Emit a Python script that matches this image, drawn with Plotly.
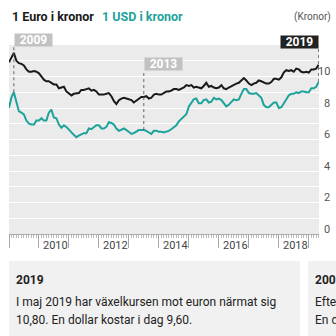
import plotly.graph_objects as go
import pandas as pd

months = [d.strftime("%Y-%m-%d") for d in pd.date_range("2009-01-01", "2019-05-01", freq="MS")]

euro = [
    10.9, 11.2, 11.5, 11.0, 10.85, 10.8, 10.7, 10.45, 10.3, 10.3, 10.35, 10.3,
    10.2, 10.0, 9.8, 9.7, 9.7, 9.6, 9.5, 9.5, 9.25, 9.3, 9.35, 9.05,
    8.95, 8.8, 8.9, 8.95, 8.95, 9.15, 9.15, 9.2, 9.25, 9.1, 9.15, 9.05,
    8.85, 8.85, 8.85, 8.9, 8.95, 8.75, 8.45, 8.25, 8.5, 8.6, 8.65, 8.6,
    8.55, 8.5, 8.35, 8.45, 8.6, 8.7, 8.7, 8.75, 8.6, 8.65, 8.85, 8.9,
    8.85, 8.85, 8.95, 9.05, 9.05, 9.1, 9.2, 9.2, 9.15, 9.2, 9.3, 9.45,
    9.4, 9.45, 9.3, 9.35, 9.3, 9.25, 9.4, 9.6, 9.35, 9.4, 9.3, 9.25,
    9.3, 9.45, 9.25, 9.2, 9.3, 9.4, 9.5, 9.55, 9.6, 9.75, 9.9, 9.75,
    9.55, 9.45, 9.55, 9.6, 9.75, 9.7, 9.6, 9.55, 9.55, 9.65, 9.85, 9.85,
    9.8, 9.95, 10.25, 10.4, 10.35, 10.4, 10.3, 10.5, 10.45, 10.3, 10.25, 10.3,
    10.25, 10.45, 10.45, 10.5, 10.75,
]

usd = [
    8.0, 8.7, 9.0, 8.3, 7.8, 7.7, 7.6, 7.2, 7.0, 6.95, 6.95, 7.2,
    7.2, 7.35, 7.2, 7.2, 7.7, 7.9, 7.4, 7.35, 6.95, 6.75, 6.9, 6.8,
    6.6, 6.45, 6.3, 6.15, 6.25, 6.35, 6.4, 6.4, 6.7, 6.65, 6.75, 6.9,
    6.9, 6.7, 6.7, 6.8, 7.1, 7.05, 6.95, 6.7, 6.55, 6.65, 6.7, 6.6,
    6.5, 6.35, 6.4, 6.5, 6.6, 6.6, 6.6, 6.55, 6.45, 6.35, 6.55, 6.55,
    6.5, 6.5, 6.45, 6.5, 6.55, 6.65, 6.8, 6.9, 7.15, 7.3, 7.45, 7.6,
    8.1, 8.35, 8.55, 8.6, 8.3, 8.3, 8.5, 8.55, 8.35, 8.4, 8.65, 8.55,
    8.6, 8.5, 8.3, 8.1, 8.2, 8.35, 8.55, 8.5, 8.55, 8.9, 9.2, 9.2,
    8.95, 8.9, 8.9, 8.95, 8.8, 8.65, 8.2, 8.05, 8.05, 8.2, 8.35, 8.35,
    8.0, 8.05, 8.3, 8.5, 8.8, 8.9, 8.9, 9.0, 8.95, 9.05, 9.05, 9.0,
    9.0, 9.25, 9.25, 9.35, 9.65,
]

year_labels = ["2010", "2012", "2014", "2016", "2018"]
y_labels = [0, 2, 4, 6, 8, 10]

# event markers: (label, date, usd value at date, box colour, anchor, box centre, box bottom)
events = [
    ("2009", "2009-03-01", 9.0, "#c2c2c2", "left", 1.026, 0.995),
    ("2013", "2013-07-01", 6.6, "#c2c2c2", "left", 0.899, 0.868),
    ("2019", "2019-05-01", 9.65, "#222222", "right", 1.016, 0.984),
]

EURO_COLOR = "#1a1a1a"
USD_COLOR = "#1ca39a"
FONT = "Roboto"

fig = go.Figure()
fig.add_trace(go.Scatter(x=months, y=euro, mode="lines",
                         line=dict(color=EURO_COLOR, width=2), hoverinfo="skip"))
fig.add_trace(go.Scatter(x=months, y=usd, mode="lines",
                         line=dict(color=USD_COLOR, width=2), hoverinfo="skip"))

shapes = []
annotations = []

for lab, d, v, col, anchor, ybox, ytop in events:
    shapes.append(dict(type="line", xref="x", yref="y", x0=d, x1=d, y0=v, y1=ytop * 12,
                       line=dict(color="#666", width=1, dash="dot"), layer="above"))
    annotations.append(dict(text="<b>%s</b>" % lab, xref="x", yref="paper", x=d, y=ybox,
                            xanchor=anchor, yanchor="middle", showarrow=False,
                            bgcolor=col, borderpad=0, width=37, height=12, align="center",
                            font=dict(family=FONT, size=12, color="white")))

for yl in year_labels:
    annotations.append(dict(text=yl, xref="x", yref="paper", x="%s-01-01" % yl, y=0,
                            xanchor="left", yanchor="middle", xshift=2, yshift=-11,
                            showarrow=False, font=dict(family=FONT, size=11, color="#444")))

for v in y_labels:
    annotations.append(dict(text=str(v), xref="paper", yref="y", x=1, y=v,
                            xanchor="right", yanchor="middle", xshift=13, yshift=5,
                            showarrow=False, font=dict(family=FONT, size=11, color="#555")))

# header legend
annotations += [
    dict(text="<b>1 Euro i kronor</b>", xref="paper", yref="paper", x=0.003, y=1.153,
         xanchor="left", yanchor="middle", showarrow=False,
         font=dict(family=FONT, size=12.5, color=EURO_COLOR)),
    dict(text="<b>1 USD i kronor</b>", xref="paper", yref="paper", x=0.294, y=1.153,
         xanchor="left", yanchor="middle", showarrow=False,
         font=dict(family=FONT, size=12.5, color=USD_COLOR)),
    dict(text="(Kronor)", xref="paper", yref="paper", x=1.045, y=1.148,
         xanchor="right", yanchor="middle", showarrow=False,
         font=dict(family=FONT, size=10, color="#555")),
]

# bottom info panels (the second one continues past the right edge, as in a carousel)
shapes += [
    dict(type="rect", xref="paper", yref="paper", x0=0, x1=0.939, y0=-0.56, y1=-0.143,
         fillcolor="#f1f1f1", line=dict(width=0), layer="below"),
    dict(type="rect", xref="paper", yref="paper", x0=0.965, x1=1.3, y0=-0.56, y1=-0.143,
         fillcolor="#f1f1f1", line=dict(width=0), layer="below"),
]
panel_texts = [
    (0.016, -0.243, "<b>2019</b>", 12),
    (0.016, -0.36, "I maj 2019 har växelkursen mot euron närmat sig", 12),
    (0.016, -0.455, "10,80. En dollar kostar i dag 9,60.", 12),
    (0.981, -0.243, "<b>2009</b>", 12),
    (0.981, -0.36, "Efter finanskrisen kostade en euro", 12),
    (0.981, -0.455, "En dollar kostade då", 12),
]
for x, y, t, s in panel_texts:
    annotations.append(dict(text=t, xref="paper", yref="paper", x=x, y=y,
                            xanchor="left", yanchor="middle", showarrow=False,
                            font=dict(family=FONT, size=s, color="#222")))

fig.update_layout(
    width=336, height=336,
    margin=dict(l=9, r=17, t=45, b=102),
    paper_bgcolor="white", plot_bgcolor="#ebebeb",
    showlegend=False,
    shapes=shapes, annotations=annotations,
    xaxis=dict(type="date", range=["2009-01-01", "2019-05-05"],
               showgrid=False, zeroline=False, showticklabels=False,
               showline=True, linecolor="#aaa", linewidth=1,
               ticks="outside", ticklen=13, tickcolor="#aaa", tickwidth=1,
               dtick="M12", tick0="2009-01-01",
               minor=dict(dtick="M1", ticks="outside", ticklen=3, tickcolor="#bbb", tickwidth=1, showgrid=False)),
    yaxis=dict(range=[0, 12], dtick=1, showgrid=True, gridcolor="white", gridwidth=1,
               zeroline=False, showticklabels=False, ticks=""),
)

fig.write_html("out.html")
